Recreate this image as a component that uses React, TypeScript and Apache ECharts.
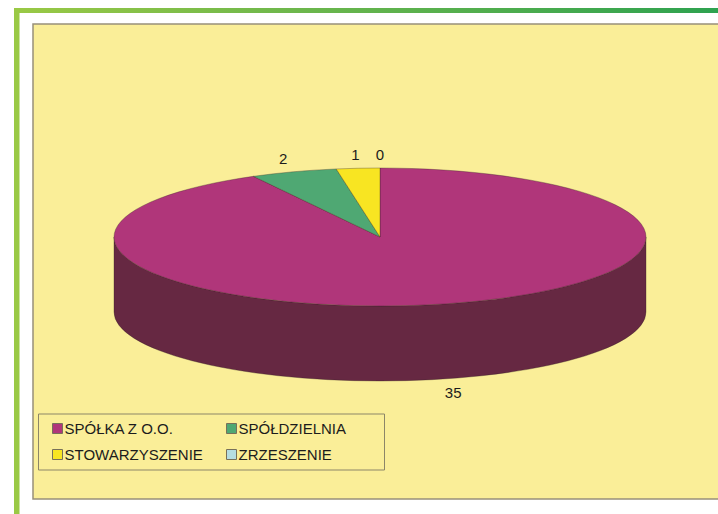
import React, { useEffect, useRef } from "react";
import * as echarts from "echarts";

const categories = ["SPÓŁKA Z O.O.", "SPÓŁDZIELNIA", "STOWARZYSZENIE", "ZRZESZENIE"];
const values = [35, 2, 1, 0];
const topColors = ["#b0367a", "#4fa873", "#f8e522", "#b5dde2"];
const sideColors = ["#662842", "#2f6645", "#948915", "#6c8588"];

const CX = 380, CY = 237, RX = 266, RY = 69, DEPTH = 75;
const LABEL_RX = 298, LABEL_RY = 83;
const total = values.reduce((a, b) => a + b, 0);
const px = (deg: number) => CX + RX * Math.sin((deg * Math.PI) / 180);
const py = (deg: number) => CY - RY * Math.cos((deg * Math.PI) / 180);
const sweepOf = (v: number) => (v / total) * 360;
const startOf = (i: number) => values.slice(0, i).reduce((a, v) => a + sweepOf(v), 0);

function renderSlice(i: number) {
  return (_params: any, api: any) => {
    const v = api.value(0);
    const start = startOf(i);
    const end = start + sweepOf(v);
    const children: any[] = [];
    const edge = { stroke: "rgba(50,35,35,0.55)", lineWidth: 0.6 };
    if (v > 0) {
      const a = Math.max(start, 90), b = Math.min(end, 270);
      if (b > a) {
        const large = b - a > 180 ? 1 : 0;
        children.push({
          type: "path",
          shape: {
            pathData: `M${px(a)} ${py(a)}A${RX} ${RY} 0 ${large} 1 ${px(b)} ${py(b)}L${px(b)} ${py(b) + DEPTH}A${RX} ${RY} 0 ${large} 0 ${px(a)} ${py(a) + DEPTH}Z`,
          },
          style: { fill: sideColors[i], ...edge },
        });
      }
      const large = end - start > 180 ? 1 : 0;
      children.push({
        type: "path",
        shape: {
          pathData: `M${CX} ${CY}L${px(start)} ${py(start)}A${RX} ${RY} 0 ${large} 1 ${px(end)} ${py(end)}Z`,
        },
        style: { fill: topColors[i], ...edge },
      });
    }
    const mid = ((start + end) / 2) * (Math.PI / 180);
    const front = Math.cos(mid) < 0;
    children.push({
      type: "text",
      style: {
        x: CX + LABEL_RX * Math.sin(mid),
        y: CY - LABEL_RY * Math.cos(mid) + (front ? DEPTH : 0),
        text: String(v),
        fill: "#1c1c1c",
        font: "15px 'Liberation Sans'",
        align: "center",
        verticalAlign: "middle",
      },
    });
    return { type: "group", children };
  };
}

const legendPos = [
  { left: 52, top: 421 },
  { left: 226, top: 421 },
  { left: 52, top: 447 },
  { left: 226, top: 447 },
];

export default function App() {
  const ref = useRef<HTMLDivElement>(null);
  useEffect(() => {
    document.body.style.margin = "0";
    const chart = echarts.init(ref.current!, null, { renderer: "svg" });
    chart.setOption({
      animation: false,
      backgroundColor: "#ffffff",
      legend: categories.map((name, i) => ({
        data: [name],
        left: legendPos[i].left,
        top: legendPos[i].top,
        padding: 0,
        itemWidth: 10,
        itemHeight: 10,
        itemGap: 0,
        icon: "rect",
        selectedMode: false,
        itemStyle: { borderColor: "#77705a", borderWidth: 1 },
        textStyle: { fontFamily: "Liberation Sans", fontSize: 15, color: "#1c1c1c", padding: [0, 0, 0, -3] },
      })),
      graphic: [
        {
          type: "rect",
          z: -10,
          shape: { x: 14, y: 8, width: 704, height: 5 },
          style: {
            fill: new echarts.graphic.LinearGradient(0, 0, 1, 0, [
              { offset: 0, color: "#9ac945" },
              { offset: 0.4, color: "#6db74c" },
              { offset: 1, color: "#2ea250" },
            ]),
          },
        },
        { type: "rect", z: -10, shape: { x: 14, y: 8, width: 5.5, height: 506 }, style: { fill: "#9ac945" } },
        {
          type: "rect",
          z: -9,
          shape: { x: 33, y: 24, width: 690, height: 475 },
          style: { fill: "#faee98", stroke: "#98907a", lineWidth: 1.5 },
        },
        {
          type: "rect",
          z: -8,
          shape: { x: 38.5, y: 414, width: 346, height: 56 },
          style: { fill: "#faee98", stroke: "#8c8668", lineWidth: 1 },
        },
      ],
      series: categories.map((name, i) => ({
        type: "custom",
        name,
        coordinateSystem: "none",
        color: topColors[i],
        itemStyle: { color: topColors[i] },
        data: [[values[i]]],
        renderItem: renderSlice(i),
        silent: true,
      })),
    });
    return () => chart.dispose();
  }, []);
  return <div ref={ref} style={{ width: 718, height: 514 }} />;
}
